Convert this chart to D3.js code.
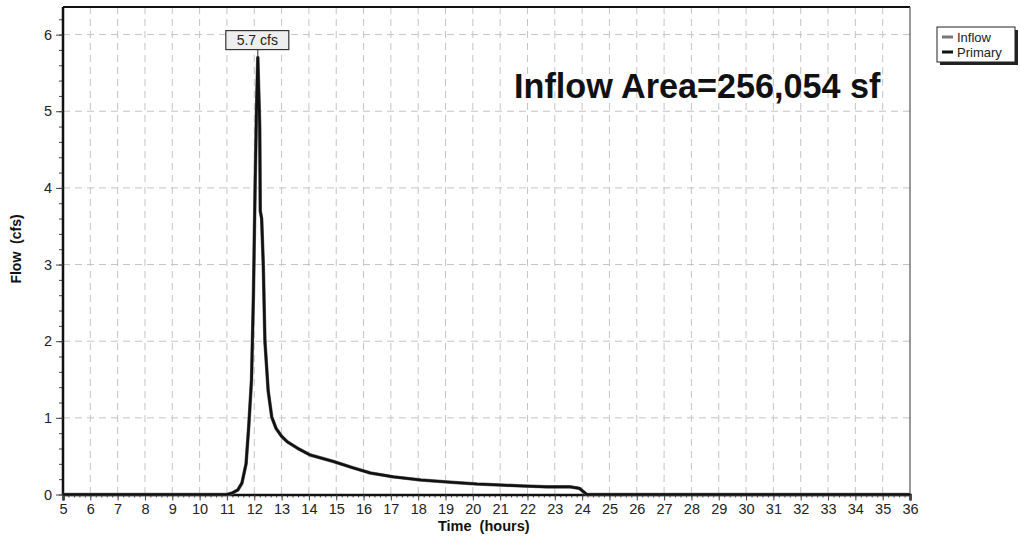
<!DOCTYPE html>
<html>
<head>
<meta charset="utf-8">
<script src="https://cdn.jsdelivr.net/npm/d3@7"></script>
<style>
  body { margin: 0; background: #fff; }
  text { font-family: "Liberation Sans", Arial, sans-serif; }
</style>
</head>
<body>
<div id="chart"></div>
<script>
// Hydrograph values (hours, cfs)
var hours = [5, 11.0, 11.2, 11.4, 11.55, 11.7, 11.8, 11.9, 11.97, 12.03, 12.08, 12.13,
             12.2, 12.22, 12.27, 12.33, 12.39, 12.51, 12.64, 12.8, 13.0, 13.2, 13.6, 14.05,
             14.9, 15.6, 16.25, 17.1, 18.1, 19.2, 20.15, 21.0, 21.85, 22.7, 23.55, 23.9, 24.17, 36];
var inflow = [0, 0, 0.02, 0.06, 0.15, 0.4, 0.9, 1.5, 2.6, 4.0, 5.0, 5.7,
              4.8, 3.7, 3.6, 3.0, 2.0, 1.35, 1.01, 0.86, 0.76, 0.69, 0.6, 0.515,
              0.43, 0.35, 0.28, 0.23, 0.19, 0.16, 0.137, 0.124, 0.11, 0.10, 0.10, 0.08, 0, 0];
var primary = inflow.slice();   // primary outflow equals inflow

var xTicks = d3.range(5, 37);
var yTicks = [0, 1, 2, 3, 4, 5, 6];
var legendNames = ["Inflow", "Primary"];
var legendColors = ["#777", "#111"];
var peakLabel = "5.7 cfs";
var areaLabel = "Inflow Area=256,054 sf";

var W = 1020, H = 542;
var margin = {top: 7, right: 110, bottom: 47, left: 63},
    width = 910 - margin.left,
    height = 494.5 - margin.top;

var svg = d3.select("#chart").append("svg")
    .attr("width", W).attr("height", H);
var g = svg.append("g")
    .attr("transform", "translate(" + margin.left + "," + margin.top + ")");

var x = d3.scaleLinear().domain([5, 36]).range([0, width]);
var y = d3.scaleLinear().domain([0, 6.36]).range([height, 0]);

// grid
g.selectAll(".vgrid").data(xTicks.slice(1, -1)).enter().append("line")
    .attr("x1", function(d){ return x(d); }).attr("x2", function(d){ return x(d); })
    .attr("y1", 0).attr("y2", height)
    .attr("stroke", "#c4c4c4").attr("stroke-dasharray", "7,5");
g.selectAll(".hgrid").data(yTicks.slice(1)).enter().append("line")
    .attr("x1", 0).attr("x2", width)
    .attr("y1", function(d){ return y(d); }).attr("y2", function(d){ return y(d); })
    .attr("stroke", "#c4c4c4").attr("stroke-dasharray", "7,5");

// frame
g.append("line").attr("x1", 0).attr("x2", width).attr("y1", 0).attr("y2", 0)
    .attr("stroke", "#111").attr("stroke-width", 2);
g.append("line").attr("x1", width).attr("x2", width).attr("y1", 0).attr("y2", height)
    .attr("stroke", "#555").attr("stroke-width", 1.2);

// x axis with minor ticks
var xMinor = d3.range(5, 36.01, 0.2);
g.append("g").attr("transform", "translate(0," + height + ")")
    .call(d3.axisBottom(x).tickValues(xMinor).tickSize(3).tickFormat(""))
    .call(function(a){ a.select(".domain").remove(); a.selectAll("line").attr("stroke", "#444"); });
var xAxis = g.append("g").attr("transform", "translate(0," + height + ")")
    .call(d3.axisBottom(x).tickValues(xTicks).tickSize(6).tickPadding(3).tickFormat(d3.format("d")));
xAxis.select(".domain").attr("stroke", "#111").attr("stroke-width", 2.5);
xAxis.selectAll("text").attr("font-size", 14.5).attr("fill", "#222")
    .attr("font-family", "'Liberation Sans', Arial, sans-serif");
xAxis.selectAll("line").attr("stroke", "#444");

// y axis with minor ticks
var yMinor = d3.range(0, 6.37, 0.2);
g.append("g")
    .call(d3.axisLeft(y).tickValues(yMinor).tickSize(4).tickFormat(""))
    .call(function(a){ a.select(".domain").remove(); a.selectAll("line").attr("stroke", "#444"); });
var yAxis = g.append("g")
    .call(d3.axisLeft(y).tickValues(yTicks).tickSize(7).tickPadding(4).tickFormat(d3.format("d")));
yAxis.select(".domain").attr("d", "M0," + height + "V0").attr("stroke", "#111").attr("stroke-width", 2.5);
yAxis.selectAll("text").attr("font-size", 14.5).attr("fill", "#222")
    .attr("font-family", "'Liberation Sans', Arial, sans-serif");
yAxis.selectAll("line").attr("stroke", "#444");

// axis titles
svg.append("text")
    .attr("transform", "translate(21,249) rotate(-90)")
    .attr("text-anchor", "middle").attr("font-weight", "bold").attr("font-size", 14)
    .attr("fill", "#111").attr("xml:space", "preserve")
    .text("Flow  (cfs)");
svg.append("text")
    .attr("x", margin.left + x(20.4)).attr("y", 531)
    .attr("text-anchor", "middle").attr("font-weight", "bold").attr("font-size", 14.5)
    .attr("fill", "#111").attr("xml:space", "preserve")
    .text("Time  (hours)");

// hydrograph lines
var line = d3.line()
    .x(function(d, i){ return x(hours[i]); })
    .y(function(d){ return y(d); });
g.append("path").datum(inflow)
    .attr("fill", "none").attr("stroke", legendColors[0]).attr("stroke-width", 3.5)
    .attr("stroke-linejoin", "round").attr("d", line);
g.append("path").datum(primary)
    .attr("fill", "none").attr("stroke", legendColors[1]).attr("stroke-width", 2.6)
    .attr("stroke-linejoin", "round").attr("d", line);

// peak label
var peakI = d3.maxIndex(inflow);
var px = x(hours[peakI]), py = y(inflow[peakI]);
g.append("line").attr("x1", px).attr("x2", px).attr("y1", py).attr("y2", py - 8)
    .attr("stroke", "#333");
g.append("rect").attr("x", px - 32).attr("y", py - 27).attr("width", 63).attr("height", 19)
    .attr("fill", "#eee").attr("stroke", "#333").attr("stroke-width", 1.2);
g.append("text").attr("x", px - 0.5).attr("y", py - 12.5)
    .attr("text-anchor", "middle").attr("font-size", 14).attr("fill", "#222")
    .text(peakLabel);

// big annotation
svg.append("text")
    .attr("x", 514).attr("y", 98)
    .attr("font-weight", "bold").attr("font-size", 34.2).attr("fill", "#111")
    .text(areaLabel);

// legend
var lg = svg.append("g").attr("transform", "translate(937,27)");
lg.append("rect").attr("x", 3).attr("y", 3).attr("width", 78).attr("height", 35).attr("fill", "#222");
lg.append("rect").attr("x", 0).attr("y", 0).attr("width", 78).attr("height", 35)
    .attr("fill", "#fff").attr("stroke", "#222").attr("stroke-width", 1);
legendNames.forEach(function(n, i){
  lg.append("line").attr("x1", 5).attr("x2", 16)
      .attr("y1", 10 + i * 15).attr("y2", 10 + i * 15)
      .attr("stroke", legendColors[i]).attr("stroke-width", 3);
  lg.append("text").attr("x", 20).attr("y", 14.5 + i * 15)
      .attr("font-size", 13).attr("fill", "#222").text(n);
});
</script>
</body>
</html>
